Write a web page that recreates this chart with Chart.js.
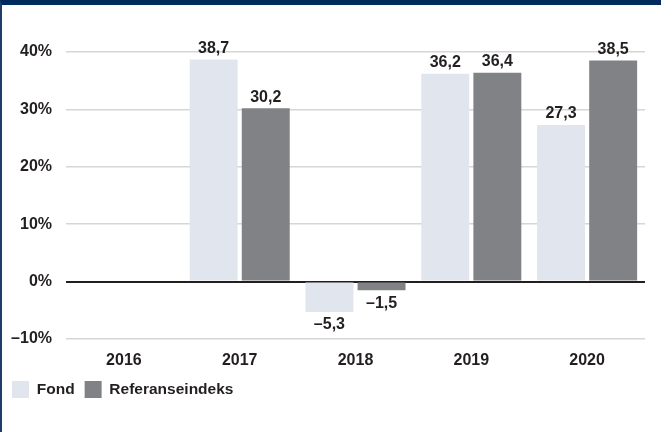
<!DOCTYPE html>
<html lang="no">
<head>
    <meta charset="UTF-8">
    <title>Avkastning</title>
    <script src="https://cdn.jsdelivr.net/npm/chart.js@4/dist/chart.umd.min.js"></script>
    <style>
        html, body { margin: 0; padding: 0; background: #fff; }
        .frame {
            width: 659px;
            height: 427px;
            border-top: 5px solid #002b5c;
            border-left: 2px solid #1f3d68;
            background: #fff;
        }
    </style>
</head>
<body>
    <div class="frame">
        <canvas id="myChart" width="659" height="427"></canvas>
    </div>
<script>
    // values
    let years = ['2016', '2017', '2018', '2019', '2020'];
    let fond = [null, 38.7, -5.3, 36.2, 27.3];
    let referanse = [null, 30.2, -1.5, 36.4, 38.5];
    let yTicks = [-10, 0, 10, 20, 30, 40];

    const textColor = '#231f20';
    const fontFamily = '"Liberation Sans", Arial, Helvetica, sans-serif';

    function fmt(v) {
        let s = Math.abs(v).toFixed(1).replace('.', ',');
        return v < 0 ? '\u2013' + s : s;
    }

    // value labels above / below each bar
    const barLabels = {
        id: 'barLabels',
        afterDatasetsDraw(chart) {
            const ctx = chart.ctx;
            ctx.save();
            ctx.fillStyle = textColor;
            ctx.font = 'bold 16px ' + fontFamily;
            ctx.textAlign = 'center';
            chart.data.datasets.forEach((ds, i) => {
                chart.getDatasetMeta(i).data.forEach((el, j) => {
                    let v = ds.data[j];
                    if (v === null) return;
                    if (v >= 0) {
                        ctx.textBaseline = 'bottom';
                        ctx.fillText(fmt(v), el.x, el.y - 3);
                    } else {
                        ctx.textBaseline = 'top';
                        ctx.fillText(fmt(v), el.x, el.y + 5);
                    }
                });
            });
            ctx.restore();
        }
    };

    let myChart = document.getElementById('myChart').getContext('2d');
    let barChart = new Chart(myChart, {
        type: 'bar',
        data: {
            labels: years,
            datasets: [{
                label: 'Fond',
                data: fond,
                backgroundColor: '#e1e5ee',
                categoryPercentage: 0.9,
                barPercentage: 0.92
            },
            {
                label: 'Referanseindeks',
                data: referanse,
                backgroundColor: '#808285',
                categoryPercentage: 0.9,
                barPercentage: 0.92
            }]
        },
        options: {
            responsive: false,
            animation: false,
            layout: {
                padding: { top: 47, right: 16, left: 0, bottom: 24 }
            },
            plugins: {
                tooltip: { enabled: false },
                legend: {
                    position: 'bottom',
                    align: 'start',
                    labels: {
                        boxWidth: 17,
                        boxHeight: 17,
                        padding: 10,
                        color: textColor,
                        font: { family: fontFamily, size: 15.5, weight: 'bold' }
                    }
                }
            },
            scales: {
                x: {
                    grid: { display: false },
                    border: { display: false },
                    ticks: {
                        color: textColor,
                        padding: 4,
                        font: { family: fontFamily, size: 16, weight: 'bold' }
                    },
                    afterFit(scale) { scale.height = 32; }
                },
                y: {
                    min: -10,
                    max: 40,
                    afterBuildTicks(scale) {
                        scale.ticks = yTicks.map(v => ({ value: v }));
                    },
                    grid: {
                        drawTicks: false,
                        color: c => c.tick && c.tick.value === 0 ? textColor : '#d6d6d6',
                        lineWidth: c => c.tick && c.tick.value === 0 ? 2 : 1.5
                    },
                    border: { display: false },
                    ticks: {
                        color: textColor,
                        padding: 14,
                        font: { family: fontFamily, size: 16, weight: 'bold' },
                        callback: v => (v < 0 ? '\u2013' + Math.abs(v) : v) + '%'
                    },
                    afterFit(scale) { scale.width = 64; }
                }
            }
        },
        plugins: [barLabels]
    });
</script>
</body>
</html>
